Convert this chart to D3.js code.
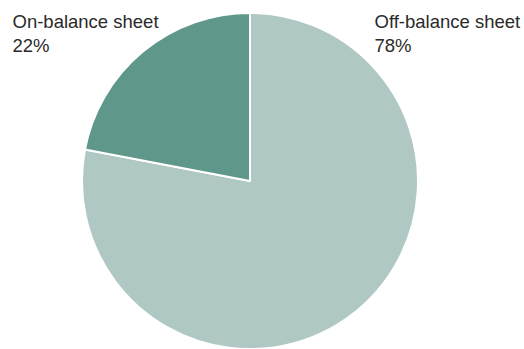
<!DOCTYPE html>
<html><head><meta charset="utf-8">
<script src="https://cdn.jsdelivr.net/npm/d3@7"></script>
<style>html,body{margin:0;padding:0;background:#fff;overflow:hidden}</style>
</head><body>
<svg id="c" width="524" height="349"></svg>
<script>
const categories = ["Off-balance sheet", "On-balance sheet"];
const values = [78, 22];
const colors = ["#afc8c3", "#5f978b"];

const svg = d3.select("#c");
const cx = 250, cy = 181, r = 168;
const pie = d3.pie().sort(null).value(d => d.v);
const arcs = pie(categories.map((c, i) => ({c, v: values[i], col: colors[i]})));
const arc = d3.arc().innerRadius(0).outerRadius(r);
const g = svg.append("g").attr("transform", `translate(${cx},${cy})`);
g.selectAll("path").data(arcs).enter().append("path")
  .attr("d", arc).attr("fill", d => d.data.col)
  .attr("stroke", "#fff").attr("stroke-width", 2).attr("stroke-linejoin", "round");

const labels = [{i: 1, x: 12.5, y: 27.7}, {i: 0, x: 374.5, y: 27.7}];
labels.forEach(l => {
  const t = svg.append("text").attr("x", l.x).attr("y", l.y)
    .attr("font-family", "Liberation Sans, Arial, sans-serif").attr("font-size", 18.5)
    .attr("fill", "#2a2a2a");
  t.append("tspan").attr("x", l.x).text(categories[l.i]);
  t.append("tspan").attr("x", l.x).attr("dy", 24).text(values[l.i] + "%");
});
</script>
</body></html>
